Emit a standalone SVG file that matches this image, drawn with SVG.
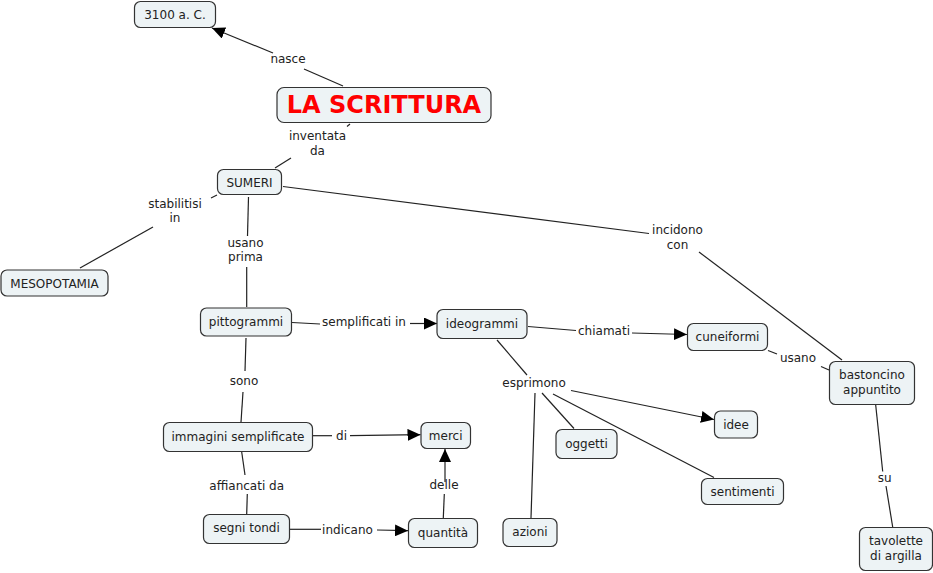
<svg xmlns="http://www.w3.org/2000/svg" width="933" height="573" viewBox="0 0 933 573">
<style>
.n rect{fill:#edf3f5;stroke:#333;stroke-width:1.2}
.n text,.l text{font-family:"DejaVu Sans",Verdana,sans-serif;font-size:12px;fill:#222;text-anchor:middle}
.c line{stroke:#222;stroke-width:1.2;fill:none}
.n text.t{font-family:"DejaVu Sans",Verdana,sans-serif;font-size:24px;font-weight:bold;fill:#f00;text-anchor:middle}
</style>
<defs>
<marker id="a" markerUnits="userSpaceOnUse" markerWidth="14" markerHeight="12" viewBox="0 0 14 12" refX="13" refY="6" orient="auto">
<path d="M0,0 L13,6 L0,12 z" fill="#000"/>
</marker>
</defs>
<rect width="933" height="573" fill="#fff"/>
<g class="c" id="connectors">
<line x1="343" y1="86" x2="304" y2="69"/>
<line x1="273" y1="53" x2="212" y2="28" marker-end="url(#a)"/>
<line x1="350" y1="124" x2="347" y2="126.5"/>
<line x1="291" y1="158" x2="275" y2="168"/>
<line x1="217" y1="195" x2="211" y2="198"/>
<line x1="153" y1="227" x2="80" y2="268"/>
<line x1="248.5" y1="197" x2="247.5" y2="236"/>
<line x1="246.7" y1="267" x2="246.7" y2="307"/>
<line x1="283" y1="186.5" x2="649" y2="233.5"/>
<line x1="699" y1="252" x2="842" y2="360"/>
<line x1="292" y1="322.5" x2="320" y2="324"/>
<line x1="410" y1="323.5" x2="437" y2="323.5" marker-end="url(#a)"/>
<line x1="528" y1="326.5" x2="576" y2="330.5"/>
<line x1="632" y1="333" x2="687" y2="334.5" marker-end="url(#a)"/>
<line x1="768" y1="350.5" x2="777" y2="354"/>
<line x1="821" y1="366.5" x2="829" y2="370"/>
<line x1="875.7" y1="405" x2="882.7" y2="471.5"/>
<line x1="886" y1="486" x2="892.7" y2="527"/>
<line x1="497" y1="340" x2="527" y2="375"/>
<line x1="571" y1="390.5" x2="714" y2="419.5" marker-end="url(#a)"/>
<line x1="542" y1="393" x2="574" y2="428.5"/>
<line x1="553" y1="394" x2="714" y2="477.5"/>
<line x1="535" y1="393" x2="531" y2="518"/>
<line x1="246" y1="338" x2="245" y2="371"/>
<line x1="243" y1="392" x2="241" y2="422"/>
<line x1="313" y1="435.7" x2="332" y2="435.7"/>
<line x1="350" y1="435.7" x2="420.5" y2="434.7" marker-end="url(#a)"/>
<line x1="241.7" y1="452" x2="245" y2="475"/>
<line x1="247.3" y1="494" x2="246.7" y2="514"/>
<line x1="290" y1="529.3" x2="321" y2="529.3"/>
<line x1="377" y1="530" x2="408" y2="530.7" marker-end="url(#a)"/>
<line x1="443.3" y1="518" x2="444.3" y2="494"/>
<line x1="445" y1="482" x2="445" y2="449" marker-end="url(#a)"/>
</g>
<g class="l" id="labels">
<text x="288" y="63">nasce</text>
<text x="317.5" y="140">inventata</text>
<text x="317.5" y="154.5">da</text>
<text x="175" y="207.5">stabilitisi</text>
<text x="175" y="222">in</text>
<text x="245.5" y="246.5">usano</text>
<text x="245.5" y="261">prima</text>
<text x="364" y="326">semplificati in</text>
<text x="604" y="335">chiamati</text>
<text x="798" y="362">usano</text>
<text x="677.5" y="234">incidono</text>
<text x="677.5" y="248.5">con</text>
<text x="534" y="386.5">esprimono</text>
<text x="244" y="385">sono</text>
<text x="341.5" y="440">di</text>
<text x="246.7" y="490">affiancati da</text>
<text x="444" y="489">delle</text>
<text x="347.5" y="533.5">indicano</text>
<text x="884.7" y="481.5">su</text>
</g>
<g class="n" id="n-3100"><rect x="134.5" y="1.5" width="81" height="26" rx="6"/><text x="175" y="19">3100 a. C.</text></g>
<g class="n" id="n-scrittura"><rect x="277" y="87.5" width="214" height="35" rx="7"/><text class="t" x="384" y="113">LA SCRITTURA</text></g>
<g class="n" id="n-sumeri"><rect x="217.5" y="169.5" width="64" height="25" rx="6"/><text x="249.5" y="186.5">SUMERI</text></g>
<g class="n" id="n-mesopotamia"><rect x="1" y="270" width="107" height="26" rx="6"/><text x="54.5" y="287.5">MESOPOTAMIA</text></g>
<g class="n" id="n-pittogrammi"><rect x="200.5" y="308" width="91" height="28" rx="6"/><text x="246" y="326">pittogrammi</text></g>
<g class="n" id="n-ideogrammi"><rect x="437" y="309.5" width="90" height="29" rx="6"/><text x="482" y="327.5">ideogrammi</text></g>
<g class="n" id="n-cuneiformi"><rect x="687.5" y="323.5" width="80" height="27" rx="6"/><text x="727.5" y="341">cuneiformi</text></g>
<g class="n" id="n-bastoncino"><rect x="829.5" y="361.5" width="85" height="43" rx="6"/><text x="872" y="378.5">bastoncino</text><text x="872" y="393.5">appuntito</text></g>
<g class="n" id="n-tavolette"><rect x="859.5" y="527.5" width="73" height="43" rx="6"/><text x="896" y="545">tavolette</text><text x="896" y="559.5">di argilla</text></g>
<g class="n" id="n-idee"><rect x="714.5" y="411" width="43" height="27" rx="6"/><text x="736" y="428.5">idee</text></g>
<g class="n" id="n-sentimenti"><rect x="701.5" y="478.5" width="82" height="26" rx="6"/><text x="742.5" y="496">sentimenti</text></g>
<g class="n" id="n-oggetti"><rect x="556" y="429.5" width="61" height="29" rx="6"/><text x="586.5" y="447.5">oggetti</text></g>
<g class="n" id="n-azioni"><rect x="503" y="518.5" width="54" height="28" rx="6"/><text x="530" y="536">azioni</text></g>
<g class="n" id="n-merci"><rect x="421" y="422.5" width="49.5" height="26" rx="6"/><text x="445.7" y="439.5">merci</text></g>
<g class="n" id="n-immagini"><rect x="163.5" y="422.5" width="149" height="29" rx="6"/><text x="238" y="440.5">immagini semplificate</text></g>
<g class="n" id="n-segni"><rect x="203.5" y="514.5" width="86" height="29" rx="6"/><text x="246.5" y="532">segni tondi</text></g>
<g class="n" id="n-quantita"><rect x="408.5" y="518.5" width="69" height="29" rx="6"/><text x="443" y="537">quantità</text></g>
</svg>
